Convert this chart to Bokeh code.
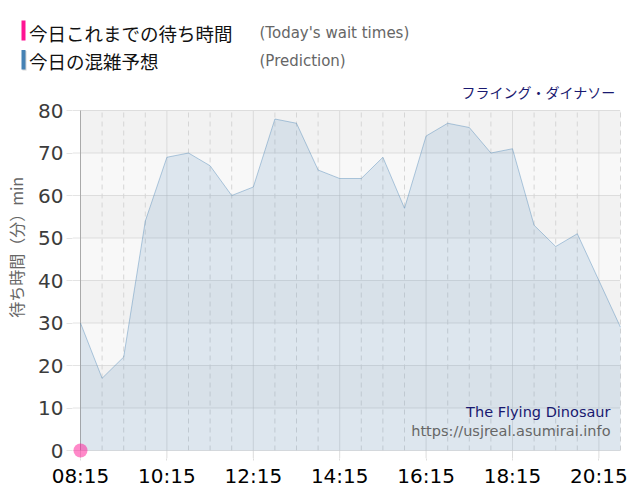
from bokeh.plotting import figure
from bokeh.layouts import column, row
from bokeh.models import FixedTicker, Label, BoxAnnotation, Range1d
from bokeh.embed import file_html
from bokeh.resources import INLINE

# ---- data ----
times = ["08:15", "08:45", "09:15", "09:45", "10:15", "10:45", "11:15", "11:45",
         "12:15", "12:45", "13:15", "13:45", "14:15", "14:45", "15:15", "15:45",
         "16:15", "16:45", "17:15", "17:45", "18:15", "18:45", "19:15", "19:45",
         "20:15", "20:45"]
prediction = [30, 17, 22, 54, 69, 70, 67, 60,
              62, 78, 77, 66, 64, 64, 69, 57,
              74, 77, 76, 70, 71, 53, 48, 51,
              40, 29]
today_times = ["08:15"]
today_waits = [0]
x_tick_labels = ["08:15", "10:15", "12:15", "14:15", "16:15", "18:15", "20:15"]
y_ticks = [0, 10, 20, 30, 40, 50, 60, 70, 80]


def hours(t):
    h, m = t.split(":")
    return int(h) + int(m) / 60.0


x = [hours(t) for t in times]
xt = [hours(t) for t in today_times]
majors = [hours(t) for t in x_tick_labels]
minors = [v for v in x if v not in majors]

# plot-area geometry (px)
PLOT_W, PLOT_H = 540, 340
PAD_L, PAD_B, PAD_R, PAD_T = 8, 8, 1, 1
x0, x1 = x[0], x[-1]
y0, y1 = y_ticks[0], y_ticks[-1]
kx = (x1 - x0) / PLOT_W
ky = (y1 - y0) / PLOT_H
xs, xe = x0 - PAD_L * kx, x1 + PAD_R * kx
ys, ye = y0 - PAD_B * ky, y1 + PAD_T * ky


def bare(fig):
    fig.outline_line_color = None
    fig.background_fill_color = "white"
    fig.border_fill_color = "white"
    fig.min_border = 0
    return fig


# ---------------- header ----------------
hdr = bare(figure(width=640, height=100, output_backend="svg", toolbar_location=None,
                  x_range=Range1d(0, 640), y_range=Range1d(100, 0),
                  x_axis_type=None, y_axis_type=None))
hdr.xgrid.visible = False
hdr.ygrid.visible = False
hdr.add_layout(BoxAnnotation(left=21, right=25, top=20, bottom=40,
                             fill_color="#ff1493", fill_alpha=1, line_color=None))
hdr.add_layout(BoxAnnotation(left=22, right=26, top=50.5, bottom=70,
                             fill_color="#888888", fill_alpha=0.35, line_color=None))
hdr.add_layout(BoxAnnotation(left=21, right=25, top=49.5, bottom=69,
                             fill_color="#4682b4", fill_alpha=1, line_color=None))
legend_rows = [("今日これまでの待ち時間", "(Today's wait times)", 32),
               ("今日の混雑予想", "(Prediction)", 60.5)]
for jp, en, cy in legend_rows:
    hdr.add_layout(Label(x=28.5, y=cy, text=jp,
                         text_font="Noto Sans CJK JP", text_font_size="18.5px",
                         text_color="#111111", text_baseline="middle"))
    hdr.add_layout(Label(x=259, y=cy, text=en,
                         text_font="DejaVu Sans", text_font_size="15px",
                         text_color="#666666", text_baseline="middle"))
hdr.add_layout(Label(x=615, y=91, text="フライング・ダイナソー",
                     text_font="Noto Sans CJK JP", text_font_size="14px",
                     text_color="#191970", text_align="right", text_baseline="middle"))

# ---------------- side (y axis title) ----------------
side = bare(figure(width=30, height=400, output_backend="svg", toolbar_location=None,
                   x_range=Range1d(0, 30), y_range=Range1d(400, 0),
                   x_axis_type=None, y_axis_type=None))
side.xgrid.visible = False
side.ygrid.visible = False
side.add_layout(Label(x=15.5, y=158, angle=1.5707963,
                      text="待ち時間（分）min", text_font="Noto Sans CJK JP",
                      text_font_size="16px", text_color="#666666",
                      text_align="center", text_baseline="middle"))

# ---------------- main chart ----------------
p = figure(width=610, height=400, output_backend="svg", toolbar_location=None,
           x_range=Range1d(xs, xe), y_range=Range1d(ys, ye),
           min_border_left=42, min_border_right=19, min_border_top=9,
           min_border_bottom=42)
p.outline_line_color = None
p.background_fill_color = "white"
p.border_fill_color = "white"
p.xgrid.visible = False
p.ygrid.visible = False

# plot background and alternating bands
p.quad(left=x0, right=x1, bottom=y0, top=y1, fill_color="#f8f8f8",
       line_color=None, level="underlay")
band_lo = [y_ticks[i] for i in range(1, len(y_ticks) - 1, 2)]
band_hi = [y_ticks[i + 1] for i in range(1, len(y_ticks) - 1, 2)]
p.quad(left=x0, right=x1, bottom=band_lo, top=band_hi, fill_color="#f2f2f2",
       line_color=None, level="underlay")

# grid lines
n = len(y_ticks)
p.segment(x0=[x0] * n, x1=[x1] * n, y0=y_ticks, y1=y_ticks,
          line_color="#c4c4c4", line_dash="1 1", level="underlay")
p.segment(x0=minors, x1=minors, y0=[y0] * len(minors), y1=[y1] * len(minors),
          line_color="#d6d6d6", line_dash="5 4", level="underlay")
p.segment(x0=majors, x1=majors, y0=[y0] * len(majors), y1=[y1] * len(majors),
          line_color="#c4c4c4", line_dash="1 1", level="underlay")
# tick stubs continuing into the axis area
p.segment(x0=[xs] * n, x1=[x0] * n, y0=y_ticks, y1=y_ticks,
          line_color="#e4e4e4", level="underlay")
p.segment(x0=majors, x1=majors, y0=[ys] * len(majors), y1=[y0] * len(majors),
          line_color="#dddddd", level="underlay")
# y axis line
p.segment(x0=[x0], x1=[x0], y0=[y0], y1=[y1], line_color="#aaaaaa", level="underlay")

# axes
p.yaxis.ticker = FixedTicker(ticks=y_ticks)
p.yaxis.axis_line_color = None
p.yaxis.major_tick_line_color = "#e4e4e4"
p.yaxis.major_tick_out = 6
p.yaxis.major_tick_in = 0
p.yaxis.minor_tick_line_color = None
p.yaxis.major_label_standoff = 3
p.yaxis.major_label_text_font = "DejaVu Sans"
p.yaxis.major_label_text_font_size = "20px"
p.yaxis.major_label_text_color = "#3c3c3c"

p.xaxis.ticker = FixedTicker(ticks=majors)
p.xaxis.axis_line_color = None
p.xaxis.major_tick_line_color = "#dddddd"
p.xaxis.major_tick_out = 2
p.xaxis.major_tick_in = 0
p.xaxis.minor_tick_line_color = None
p.xaxis.major_label_standoff = 3
p.xaxis.major_label_text_font = "DejaVu Sans"
p.xaxis.major_label_text_font_size = "20px"
p.xaxis.major_label_text_color = "#000000"
p.xaxis.major_label_overrides = {v: t for v, t in zip(majors, x_tick_labels)}

# series
p.varea(x=x, y1=[y0] * len(x), y2=prediction, fill_color="steelblue", fill_alpha=0.15)
p.line(x, prediction, line_color="steelblue", line_alpha=0.4, line_width=1)
p.scatter(xt, today_waits, size=14, fill_color="#ff1493", fill_alpha=0.5, line_color=None)

# watermark
p.add_layout(Label(x=580, y=311, x_units="canvas", y_units="canvas",
                   text="The Flying Dinosaur", text_font="DejaVu Sans",
                   text_font_size="14.5px", text_color="#191970",
                   text_align="right", text_baseline="middle"))
p.add_layout(Label(x=580, y=330, x_units="canvas", y_units="canvas",
                   text="https://usjreal.asumirai.info", text_font="DejaVu Sans",
                   text_font_size="14.5px", text_color="#666666",
                   text_align="right", text_baseline="middle"))

layout = column(hdr, row(side, p))
open("out.html", "w").write(file_html(layout, INLINE))
